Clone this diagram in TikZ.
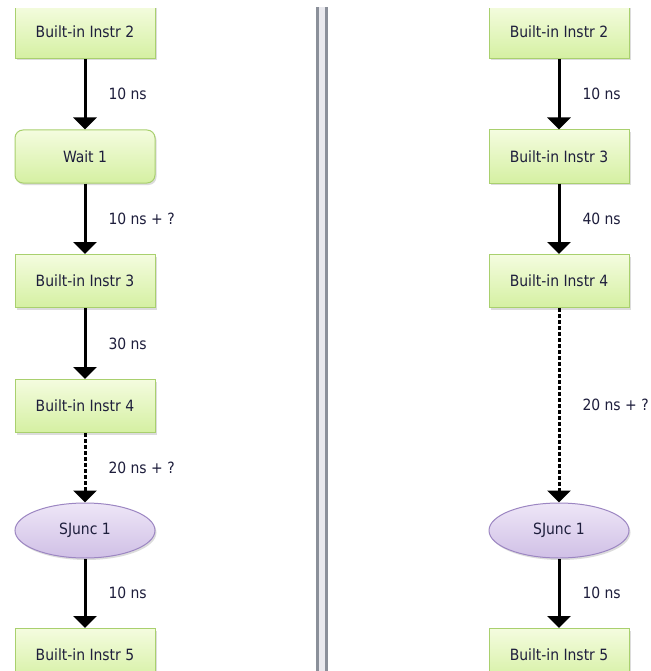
\documentclass[tikz,border=0pt]{standalone}
\usepackage{fontspec}
\setmainfont{DejaVu Sans Condensed}
\usetikzlibrary{arrows.meta,shapes.geometric,shadows}
\definecolor{txt}{HTML}{1E1E3C}
\definecolor{boxtop}{HTML}{F4FCDF}
\definecolor{boxbot}{HTML}{D5F0A2}
\definecolor{boxline}{HTML}{A9D06E}
\definecolor{elltop}{HTML}{EEE6F7}
\definecolor{ellbot}{HTML}{D0C0E6}
\definecolor{ellline}{HTML}{9C86C2}
\definecolor{sepline}{HTML}{8B909A}
\definecolor{sepfill}{HTML}{E9E9EE}
\tikzset{
  x=1pt, y=-1pt,
  every node/.style={font=\fontsize{15.5}{18}\selectfont, text=txt},
  shade/.style={drop shadow={shadow xshift=1.5pt, shadow yshift=-2pt, fill=black!30, opacity=.45}},
  instr/.style={rectangle, draw=boxline, line width=1pt, top color=boxtop, bottom color=boxbot,
    minimum width=140pt, minimum height=53pt, shade},
  waitbox/.style={instr, rounded corners=8pt},
  junc/.style={ellipse, draw=ellline, line width=1pt, top color=elltop, bottom color=ellbot,
    minimum width=140pt, minimum height=55pt, inner sep=0pt, shade},
  flow/.style={line width=3pt, -{Triangle[width=23pt,length=12pt]}},
  waitflow/.style={flow, dash pattern=on 4pt off 2pt},
  lbl/.style={midway, anchor=west, inner sep=0pt, xshift=22pt}
}
\begin{document}
\begin{tikzpicture}
\useasboundingbox (0,0) rectangle (650,671);
\fill[white] (0,0) rectangle (650,671);
% separator between the two sequences
\fill[sepfill] (316,7) rectangle (328,671);
\fill[sepline] (316,7) rectangle (318.7,671);
\fill[sepline] (325.2,7) rectangle (328,671);
\begin{scope}
\clip (0,9) rectangle (650,671);
% left sequence
\node[instr]   (l1) at (85,32)  {Built-in Instr 2};
\node[waitbox] (l2) at (85,156.5) {Wait 1};
\node[instr]   (l3) at (85,281) {Built-in Instr 3};
\node[instr]   (l4) at (85,406) {Built-in Instr 4};
\node[junc]    (l5) at (85,530.5) {SJunc 1};
\node[instr]   (l6) at (85,655) {Built-in Instr 5};
\draw[flow] (l1) -- (l2) node[lbl] {10 ns};
\draw[flow] (l2) -- (l3) node[lbl] {10 ns + ?};
\draw[flow] (l3) -- (l4) node[lbl] {30 ns};
\draw[waitflow] (l4) -- (l5) node[lbl] {20 ns + ?};
\draw[flow] (l5) -- (l6) node[lbl] {10 ns};
% right sequence
\node[instr] (r1) at (559,32)  {Built-in Instr 2};
\node[instr] (r2) at (559,156.5) {Built-in Instr 3};
\node[instr] (r3) at (559,281) {Built-in Instr 4};
\node[junc]  (r4) at (559,530.5) {SJunc 1};
\node[instr] (r5) at (559,655) {Built-in Instr 5};
\draw[flow] (r1) -- (r2) node[lbl] {10 ns};
\draw[flow] (r2) -- (r3) node[lbl] {40 ns};
\draw[waitflow] (r3) -- (r4) node[lbl] {20 ns + ?};
\draw[flow] (r4) -- (r5) node[lbl] {10 ns};
\end{scope}
\end{tikzpicture}
\end{document}
